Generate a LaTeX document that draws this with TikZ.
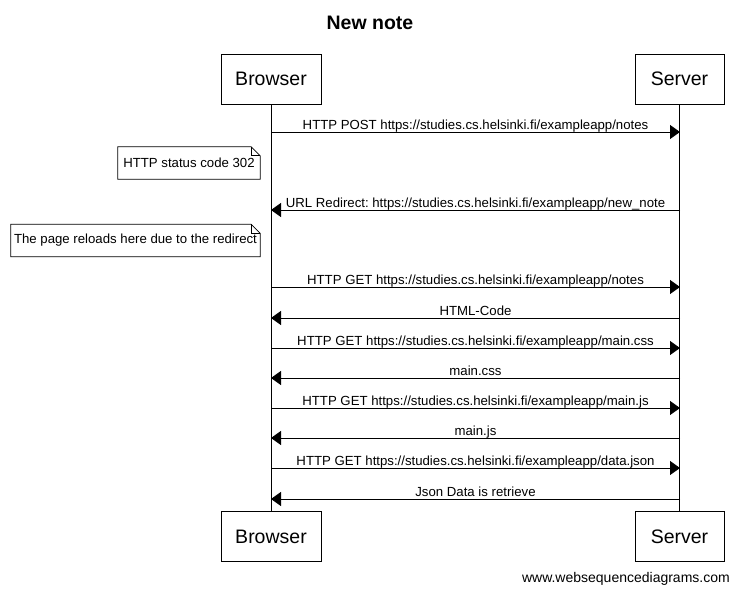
\documentclass[tikz,border=0pt]{standalone}
\usepackage{fontspec}
\setmainfont{Liberation Sans}
\usetikzlibrary{arrows.meta}
\frenchspacing
\begin{document}
\begin{tikzpicture}[x=1pt,y=-1pt,
  actor/.style={draw,line width=1pt,minimum height=50pt,font=\fontsize{19.5}{22}\selectfont,inner sep=0pt},
  lifeline/.style={line width=1pt},
  msg/.style={line width=1pt,-{Triangle[length=10pt,width=14pt]}},
  lbl/.style={font=\fontsize{13.2}{15}\selectfont,inner sep=0pt,anchor=base},
  notebox/.style={minimum height=32pt,inner sep=0pt,font=\fontsize{13.2}{15}\selectfont},
  notedraw/.style={line width=0.8pt}
]
\useasboundingbox (0,0) rectangle (739,595);
\node[font=\bfseries\fontsize{19.5}{22}\selectfont] (title) at (370,22.5) {New note};
\node[actor,minimum width=100pt] (bt) at (271,79) {Browser};
\node[actor,minimum width=89pt] (st) at (679.5,79) {Server};
\node[actor,minimum width=100pt] (bb) at (271,536.5) {Browser};
\node[actor,minimum width=89pt] (sb) at (679.5,536.5) {Server};
\draw[lifeline] (bt.south) -- (bb.north);
\draw[lifeline] (st.south) -- (sb.north);
% message coordinates
\foreach \i/\y in {1/132,2/210,3/287,4/318,5/348,6/378,7/408,8/438,9/468,10/499}{
  \coordinate (b\i) at (271,\y);
  \coordinate (s\i) at (680,\y);
}
\draw[msg] (b1) -- (s1) node[lbl,midway,yshift=3pt] {HTTP POST https://studies.cs.helsinki.fi/exampleapp/notes};
\draw[msg] (s2) -- (b2) node[lbl,midway,yshift=3pt] {URL Redirect: https://studies.cs.helsinki.fi/exampleapp/new\_note};
\draw[msg] (b3) -- (s3) node[lbl,midway,yshift=3pt] {HTTP GET https://studies.cs.helsinki.fi/exampleapp/notes};
\draw[msg] (s4) -- (b4) node[lbl,midway,yshift=3pt] {HTML-Code};
\draw[msg] (b5) -- (s5) node[lbl,midway,yshift=3pt] {HTTP GET https://studies.cs.helsinki.fi/exampleapp/main.css};
\draw[msg] (s6) -- (b6) node[lbl,midway,yshift=3pt] {main.css};
\draw[msg] (b7) -- (s7) node[lbl,midway,yshift=3pt] {HTTP GET https://studies.cs.helsinki.fi/exampleapp/main.js};
\draw[msg] (s8) -- (b8) node[lbl,midway,yshift=3pt] {main.js};
\draw[msg] (b9) -- (s9) node[lbl,midway,yshift=3pt] {HTTP GET https://studies.cs.helsinki.fi/exampleapp/data.json};
\draw[msg] (s10) -- (b10) node[lbl,midway,yshift=3pt] {Json Data is retrieve};
% notes
\node[notebox,minimum width=142pt] (n1) at (189,163) {HTTP status code 302};
\node[notebox,minimum width=249pt] (n2) at (135.5,240.5) {The page reloads here due to the redirect};
\foreach \n in {n1,n2}{
  \draw[notedraw] (\n.south west) -- (\n.north west) -- ([xshift=-9pt]\n.north east) -- ([yshift=-9pt]\n.north east) -- (\n.south east) -- cycle;
  \draw[notedraw] ([xshift=-9pt]\n.north east) -- ([xshift=-9pt,yshift=-9pt]\n.north east) -- ([yshift=-9pt]\n.north east);
}
\node[font=\fontsize{14}{16}\selectfont,anchor=east,inner sep=0pt] (wm) at (730,579) {www.websequencediagrams.com};
\end{tikzpicture}
\end{document}
